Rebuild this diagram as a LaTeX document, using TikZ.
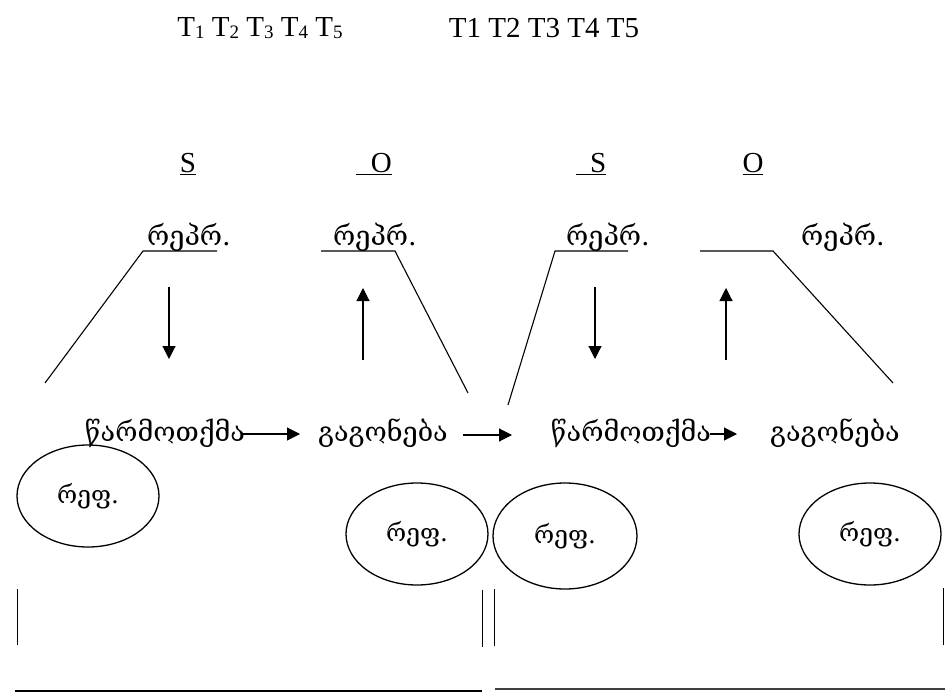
\documentclass[tikz,border=0pt]{standalone}
\usepackage{fontspec}
\setmainfont{Liberation Serif}
\newfontfamily\geo{DejaVu Serif}
\usetikzlibrary{arrows.meta,shapes.geometric}
\newcommand{\subd}[1]{{\fontsize{19}{19}\selectfont\raisebox{-1.5pt}{#1}}}
\newcommand{\reftext}{\raisebox{5pt}{რეფ.}\hspace{8pt}}
\begin{document}
\begin{tikzpicture}[x=1pt,y=-1pt,line width=1.1pt,
  lat/.style={font=\fontsize{29}{33}\selectfont, inner sep=0pt},
  geotext/.style={font=\geo\fontsize{27}{32}\selectfont, inner sep=0pt},
  refell/.style={draw, ellipse, line width=1.3pt, minimum width=142pt, minimum height=102pt, inner sep=0pt, font=\geo\fontsize{24.5}{28}\selectfont},
  arr/.style={-{Triangle[length=13pt,width=13pt]}, line width=1.1pt},
  thin/.style={line width=0.9pt}]
\useasboundingbox (0,0) rectangle (945,696);

% top labels
\node[lat] (tsub) at (260,28) {T\subd{1} T\subd{2} T\subd{3} T\subd{4} T\subd{5}};
\node[lat] (tnum) at (544,28) {T1 T2 T3 T4 T5};

% S / O
\node[lat] (s1) at (188,164) {\underline{S}};
\node[lat] (o1) at (374,164) {\underline{\hphantom{\_}O}};
\node[lat] (s2) at (591,164) {\underline{\hphantom{\_}S}};
\node[lat] (o2) at (753,164) {\underline{O}};

% repr
\node[geotext] (r1) at (189,237) {რეპრ.};
\node[geotext] (r2) at (375,237) {რეპრ.};
\node[geotext] (r3) at (608,237) {რეპრ.};
\node[geotext] (r4) at (843,237) {რეპრ.};

% brackets
\coordinate (a1) at (45,383);
\coordinate (a2) at (143,251);
\coordinate (a3) at (217,251);
\draw (a1) -- (a2) -- (a3);
\coordinate (b1) at (321,251);
\coordinate (b2) at (395,251);
\coordinate (b3) at (468,393);
\draw (b1) -- (b2) -- (b3);
\coordinate (c1) at (628,251);
\coordinate (c2) at (555,251);
\coordinate (c3) at (508,405);
\draw (c1) -- (c2) -- (c3);
\coordinate (d1) at (700,251);
\coordinate (d2) at (773,251);
\coordinate (d3) at (893,383);
\draw (d1) -- (d2) -- (d3);

% vertical arrows
\coordinate (v1a) at (169,287); \coordinate (v1b) at (169,359);
\coordinate (v2a) at (363,360); \coordinate (v2b) at (363,288);
\coordinate (v3a) at (595,287); \coordinate (v3b) at (595,359);
\coordinate (v4a) at (726,360); \coordinate (v4b) at (726,288);
\draw[arr] (v1a) -- (v1b);
\draw[arr] (v2a) -- (v2b);
\draw[arr] (v3a) -- (v3b);
\draw[arr] (v4a) -- (v4b);

% middle row
\node[geotext] (w1) at (165,433) {წარმოთქმა};
\node[geotext] (g1) at (383,433) {გაგონება};
\node[geotext] (w2) at (631,433) {წარმოთქმა};
\node[geotext] (g2) at (835,433) {გაგონება};
\coordinate (m1) at (243,434); \coordinate (m1t) at (300,434);
\coordinate (m2) at (463,435); \coordinate (m2t) at (512,435);
\coordinate (m3) at (710,434); \coordinate (m3t) at (737,434);
\draw[arr] (m1) -- (m1t);
\draw[arr] (m2) -- (m2t);
\draw[arr] (m3) -- (m3t);

% ellipses
\node[refell] (e1) at (88,496) {\reftext};
\node[refell] (e2) at (417,534) {\reftext};
\node[refell, minimum width=144pt, minimum height=106pt] (e3) at (565,536) {\reftext};
\node[refell] (e4) at (870,534) {\reftext};

% bottom frame
\coordinate (p1) at (17,589); \coordinate (p2) at (17,645);
\coordinate (q1) at (482,590); \coordinate (q2) at (482,647);
\coordinate (q3) at (494,589); \coordinate (q4) at (494,646);
\coordinate (r1a) at (943,588); \coordinate (r1b) at (943,645);
\draw[thin] (p1) -- (p2);
\draw[thin] (q1) -- (q2);
\draw[thin] (q3) -- (q4);
\draw[thin] (r1a) -- (r1b);
\coordinate (h1) at (15,691); \coordinate (h2) at (482,691);
\coordinate (h3) at (495,689); \coordinate (h4) at (945,689);
\draw[line width=1.4pt] (h1) -- (h2);
\draw[line width=1.8pt, black!75] (h3) -- (h4);
\end{tikzpicture}
\end{document}
